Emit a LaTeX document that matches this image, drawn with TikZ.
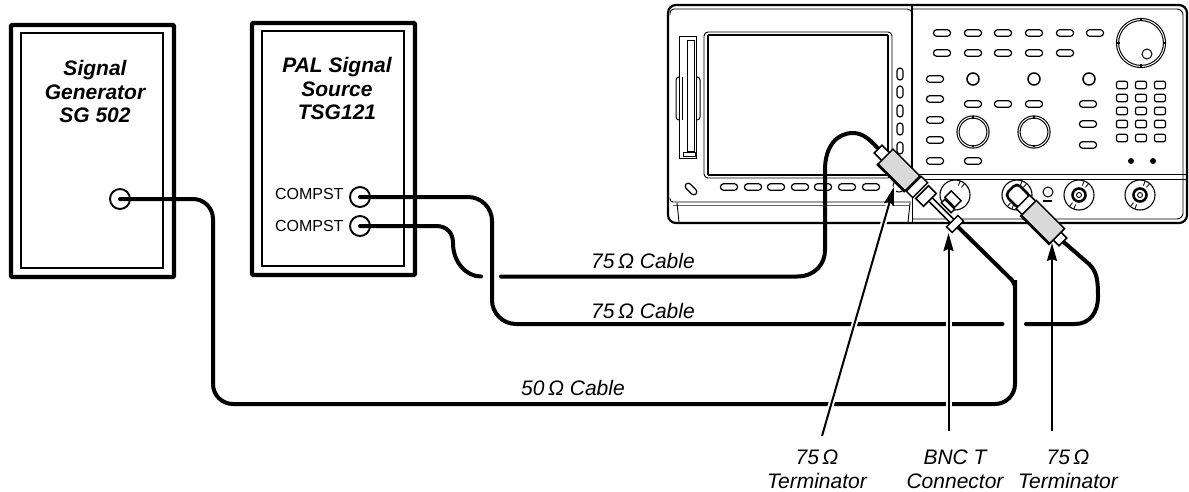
\documentclass[tikz,border=0pt]{standalone}
\usepackage{fontspec}
\setmainfont{Liberation Sans}
\usetikzlibrary{arrows.meta}
\begin{document}
\begin{tikzpicture}
  [x=1pt,y=-1pt,
   chassis/.style={rectangle,draw=black,line width=4.2,rounded corners=1,inner sep=0},
   chassisin/.style={rectangle,draw=black,line width=1.4,inner sep=0},
   jack/.style={circle,draw=black,line width=1.9,fill=white,minimum size=20,inner sep=0},
   pill/.style={rectangle,draw=black,line width=1.2,fill=white,rounded corners=3,minimum width=17,minimum height=6.5,inner sep=0},
   softkey/.style={pill,minimum width=6,minimum height=12},
   padkey/.style={pill,rounded corners=2,minimum width=11,minimum height=7.5},
   roundkey/.style={circle,draw=black,line width=1.5,minimum size=12,inner sep=0},
   knob/.style={circle,draw=black,line width=1.1,double distance=1,minimum size=30,inner sep=0},
   bncring/.style={circle,draw=black,line width=1.1,fill=white,minimum size=30,inner sep=0},
   bnccore/.style={circle,draw=black,line width=2.6,fill=white,minimum size=13,inner sep=0},
   cable/.style={draw=black,line width=4,line cap=round},
   pointer/.style={draw=black,line width=2,-{Stealth[length=18,width=10,inset=2]}},
   halo/.style={preaction={draw=white,line width=6,-}},
   part/.style={rectangle,draw=black,line width=1.5,fill=white,rotate=-45,inner sep=0},
   body/.style={part,fill=black!15,minimum width=38,minimum height=21},
   title/.style={font=\fontsize{21}{23.5}\selectfont\bfseries\itshape,align=center},
   portname/.style={font=\fontsize{16}{18}\selectfont},
   tag/.style={font=\fontsize{21}{24}\selectfont\itshape,align=center}]

  \useasboundingbox (0,0) rectangle (1189,492);

  % Signal generator
  \node[chassis,minimum width=163,minimum height=252] (genbox) at (92.5,151) {};
  \node[chassisin,minimum width=142,minimum height=235] (geninner) at (92,150.5) {};
  \node[title] (gentitle) at (95,91.5) {Signal\\Generator\\SG 502};
  \node[jack] (genjack) at (120,199) {};

  % PAL source
  \node[chassis,minimum width=163,minimum height=252] (palbox) at (333.5,149) {};
  \node[chassisin,minimum width=142,minimum height=235] (palinner) at (333,148.5) {};
  \node[title] (paltitle) at (337,88.5) {PAL Signal\\Source\\TSG121};
  \node[jack] (compa) at (360,197) {};
  \node[jack] (compb) at (360,226) {};
  \node[portname,anchor=base east] (compalabel) at (347,199) {COMPST};
  \node[portname,anchor=base east] (compblabel) at (347,231) {COMPST};

  % Oscilloscope case
  \draw[line width=2.2,rounded corners=8] (668,5) rectangle (1187,223);
  \draw[line width=.9,rounded corners=4] (670,15) -- (670,9) -- (911,9) -- (912,12);
  \draw[line width=.9,rounded corners=6] (913,9) -- (1183,9) -- (1183,219) -- (913,219);
  \draw[line width=.9,rounded corners=3] (670,198) -- (670,202) -- (911,202);
  \draw[line width=.6,black!60] (673,205) -- (909,205);
  \draw[line width=.9] (677,203) -- (679,222);
  \draw[line width=.9] (910,203) -- (908,222);
  \draw[line width=2.2] (912,5) -- (912,175);
  \draw[line width=.9] (912,175) -- (912,222);
  \draw[line width=1.2] (912,174.5) -- (1187,174.5);
  \draw[line width=.9] (912,179) -- (1187,179);

  % Screen and disk slot
  \draw[line width=.9,rounded corners=4] (704,32) rectangle (892,178);
  \draw[line width=1.8,rounded corners=1] (708,35) rectangle (888,175);
  \draw[line width=1,rounded corners=3,fill=white] (676,77) rectangle (700,120);
  \draw[line width=1,fill=white] (679,37) rectangle (696,159);
  \draw[line width=1] (682,77) -- (682,120);
  \draw[line width=1] (691,77) -- (691,120);
  \draw[line width=1,fill=white] (687,41) rectangle (694,152);
  \draw[line width=1] (683,153) rectangle (695,157);

  % Buttons of the front panel
  \foreach \y in {74,92,111,129,148}
    \node[softkey] (side\y) at (900,\y) {};
  \foreach \x in {729,753,776,800,823,847,871}
    \node[pill] (low\x) at (\x,187) {};
  \node[pill,minimum width=14,minimum height=6,rotate=-45] (slant) at (691,189) {};
  \foreach \x in {942,973,1003,1034,1065,1095}
    \node[pill] (upper\x) at (\x,33) {};
  \foreach \x in {942,973,1003,1034,1065}
    \node[pill] (second\x) at (\x,53) {};
  \foreach \y in {79,99,120,140,161}
    \node[pill] (menu\y) at (935,\y) {};
  \foreach \x in {973,1034,1089}
    \node[roundkey] (round\x) at (\x,79) {};
  \foreach \x in {973,1003,1034}
    \node[pill] (mid\x) at (\x,104) {};
  \node[pill] (lone) at (973,161) {};
  \foreach \y in {104,124,145}
    \node[pill] (right\y) at (1088,\y) {};
  \foreach \x in {1122,1141,1160}
    \foreach \y in {85,98,111,124,138}
      \node[padkey] (pad\x\y) at (\x,\y) {};
  \foreach \x in {1131,1153}
    \node[circle,fill=black,minimum size=6,inner sep=0] (dot\x) at (\x,161) {};

  % Knobs
  \node[knob,minimum size=47] (bigknob) at (1141,43) {};
  \node[circle,draw=black,line width=1,minimum size=10,inner sep=0] (bigdot) at (1147,54) {};
  \foreach \ang in {0,90,180,270}
    \draw[line width=2.4] ([shift={(\ang:21.5)}]bigknob.center) -- ([shift={(\ang:24.5)}]bigknob.center);
  \foreach \x in {973,1034} {
    \node[knob] (knob\x) at (\x,132) {};
    \foreach \ang in {90,270}
      \draw[line width=2] ([shift={(\ang:13)}]knob\x.center) -- ([shift={(\ang:15.5)}]knob\x.center);
  }

  % BNC inputs
  \foreach \x in {955,1017,1079,1140} {
    \node[bncring] (bnc\x) at (\x,195) {};
    \foreach \ang in {-70,-50,110,130}
      \draw[line width=.8] ([shift={(\ang:10)}]bnc\x.center) -- ([shift={(\ang:15)}]bnc\x.center);
  }
  \foreach \x in {1079,1140} {
    \node[bnccore] (core\x) at (\x,195) {};
    \node[circle,draw=black,line width=.9,minimum size=5,inner sep=0] (pin\x) at (\x,195) {};
  }
  \node[circle,draw=black,line width=1,minimum size=10,inner sep=0] (probe) at (1048,192) {};
  \draw[line width=1.6] (1043,201) -- (1052,201);
  \node[circle,draw=black,line width=1,minimum size=12,inner sep=0] (hidden) at (899,186) {};

  % T connector behind the cables
  \node[part,minimum width=32,minimum height=5] (rod) at (941,210) {};
  \node[part,minimum width=14,minimum height=5] (neck) at (948,206) {};
  \node[part,minimum width=14,minimum height=9] (branch) at (953,199) {};

  % Cables
  \coordinate (gapa) at (481,276.5);
  \coordinate (gapb) at (501,276.5);
  \coordinate (gapc) at (1002.5,324);
  \coordinate (gapd) at (1026,324);
  \coordinate (capaend) at (882,153);
  \coordinate (capbend) at (1059,238);
  \coordinate (footend) at (955,224);
  \draw[cable,rounded corners=20] (genjack.center) -- (213,199) -- (213,404) -- (1015,404) -- (1015,300)
    [rounded corners=5] -- (1015,283) -- (footend);
  \draw[cable] (compb.center) -- (436,226) .. controls (447,226) and (453,233) .. (453,243)
    .. controls (453,262) and (466,276.5) .. (gapa);
  \draw[cable,rounded corners=24] (compa.center) -- (492,197) -- (492,324) -- (gapc);
  \draw[cable] (gapb) -- (797,276.5) .. controls (815,276.5) and (825,264) .. (825,250) -- (825,170)
    .. controls (825,146) and (837,133) .. (853,133) .. controls (863,133) and (871,140) .. (capaend);
  \draw[cable] (gapd) -- (1075,324) .. controls (1090,324) and (1098,312) .. (1098,297)
    .. controls (1098,280) and (1097,272) .. (1089,264) -- (capbend);

  % Parts in front of the cables
  \node[part,minimum width=11,minimum height=11] (capa) at (capaend) {};
  \node[part,minimum width=11,minimum height=11] (capb) at (capbend) {};
  \node[part,minimum width=8,minimum height=16] (foot) at (footend) {};
  \node[part,minimum width=9,minimum height=21] (collara) at (917,187) {};
  \node[part,minimum width=11,minimum height=18] (collarb) at (926,196) {};
  \node[body] (terma) at (899,170) {};
  \draw[line width=2.6] (terma.south west) -- (terma.south east);
  \node[part,line width=2.6,rounded corners=5,minimum width=20,minimum height=17] (nose) at (1018,196) {};
  \node[part,minimum width=9,minimum height=19] (collarc) at (1026,205) {};
  \node[body,minimum width=40] (termb) at (1043,222) {};
  \draw[line width=2.6] (termb.south west) -- (termb.south east);

  % Arrows to the parts
  \coordinate (taila) at (822,436);
  \coordinate (tipa) at (894,187);
  \coordinate (tailb) at (948.5,431);
  \coordinate (tipb) at (948.5,233);
  \coordinate (tailc) at (1052,431);
  \coordinate (tipc) at (1052,243);
  \draw[pointer,halo] (taila) -- (tipa);
  \draw[pointer,halo] (tailb) -- (tipb);
  \draw[pointer] (tailc) -- (tipc);

  % Labels
  \node[tag,anchor=base] (cablea) at (643,268) {75\,Ω Cable};
  \node[tag,anchor=base] (cableb) at (643,318) {75\,Ω Cable};
  \node[tag,anchor=base] (cablec) at (573,395) {50\,Ω Cable};
  \node[tag] (labela) at (817,469) {75\,Ω\\Terminator};
  \node[tag] (labelb) at (955,469) {BNC T\\Connector};
  \node[tag] (labelc) at (1068,469) {75\,Ω\\Terminator};

\end{tikzpicture}
\end{document}
